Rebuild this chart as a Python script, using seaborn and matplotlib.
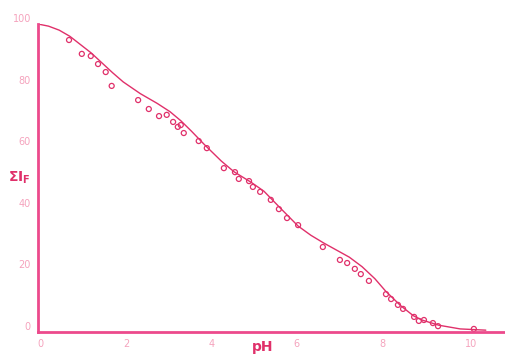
import numpy as np
import pandas as pd
import matplotlib
matplotlib.use("Agg")
import matplotlib.pyplot as plt
import seaborn as sns

# measured points
ph_pts = [0.73, 1.03, 1.24, 1.41, 1.59, 1.73, 2.35, 2.60, 2.84, 3.02, 3.17, 3.28,
          3.35, 3.42, 3.77, 3.96, 4.36, 4.62, 4.71, 4.95, 5.04, 5.21, 5.46, 5.65,
          5.84, 6.10, 6.68, 7.08, 7.25, 7.43, 7.57, 7.76, 8.16, 8.28, 8.44, 8.56,
          8.82, 8.93, 9.05, 9.26, 9.38, 10.22]
sif_pts = [94.8, 90.3, 89.6, 87.0, 84.4, 79.9, 75.3, 72.4, 70.1, 70.5, 68.2, 66.6,
           67.2, 64.6, 62.0, 59.7, 53.2, 51.9, 49.7, 49.0, 47.1, 45.5, 42.9, 39.9,
           37.0, 34.7, 27.6, 23.4, 22.4, 20.5, 18.8, 16.6, 12.3, 10.7, 8.8, 7.5,
           4.9, 3.6, 3.9, 2.9, 1.9, 1.0]

# fitted curve
ph_fit = [0.0, 0.25, 0.5, 0.75, 1.0, 1.25, 1.5, 1.75, 2.0, 2.4, 2.8, 3.1, 3.35,
          3.6, 3.9, 4.3, 4.6, 5.0, 5.3, 5.7, 6.1, 6.4, 6.7, 7.0, 7.3, 7.6, 7.9,
          8.15, 8.5, 8.8, 9.0, 9.4, 9.9, 10.5]
sif_fit = [100.0, 99.3, 98.0, 96.0, 93.3, 90.6, 87.4, 84.2, 81.2, 77.4, 74.2, 71.5,
           68.6, 65.2, 60.9, 55.5, 52.0, 48.6, 45.7, 40.0, 34.4, 31.4, 28.9, 26.6,
           24.3, 21.2, 17.3, 13.3, 8.6, 5.3, 3.9, 2.2, 1.0, 0.6]

x_ticks = [0, 2, 4, 6, 8, 10]
y_ticks = [0, 20, 40, 60, 80, 100]

line_col = "#e0306a"
axis_col = "#ec4a8c"
lab_col = "#f5a3bd"

sns.set_style("white")
plt.rcParams["mathtext.fontset"] = "dejavusans"

fig = plt.figure(figsize=(5.05, 3.56), dpi=100)
ax = fig.add_axes([0.075, 0.0674, 0.925, 0.8652])

sns.lineplot(x=ph_fit, y=sif_fit, ax=ax, color=line_col, linewidth=1.0)
sns.scatterplot(x=ph_pts, y=sif_pts, ax=ax, marker="o", s=13,
                facecolors="none", edgecolor=line_col, linewidth=0.9)

ax.set_xlim(0, 10.95)
ax.set_ylim(0, 100)
ax.set_xticks(x_ticks)
ax.set_yticks(y_ticks)
ax.set_xticklabels([str(v) for v in x_ticks], ha="left")
ax.set_yticklabels([str(v) for v in y_ticks], va="bottom")
ax.tick_params(axis="both", direction="out", length=4, width=1.3,
               color=axis_col, labelcolor=lab_col, labelsize=7, pad=1)

for s in ["top", "right"]:
    ax.spines[s].set_visible(False)
for s in ["left", "bottom"]:
    ax.spines[s].set_color(axis_col)
    ax.spines[s].set_linewidth(2)

ax.set_xlabel("pH", color=line_col, fontsize=10, fontweight="bold")
ax.xaxis.set_label_coords(0.481, -0.05)
ax.xaxis.label.set_va("center")
ax.set_ylabel(r"$\mathbf{\Sigma I_F}$", color=line_col, fontsize=10,
              rotation=0, va="center")
ax.yaxis.set_label_coords(-0.04, 0.5)

fig.savefig("out.png", dpi=100)
